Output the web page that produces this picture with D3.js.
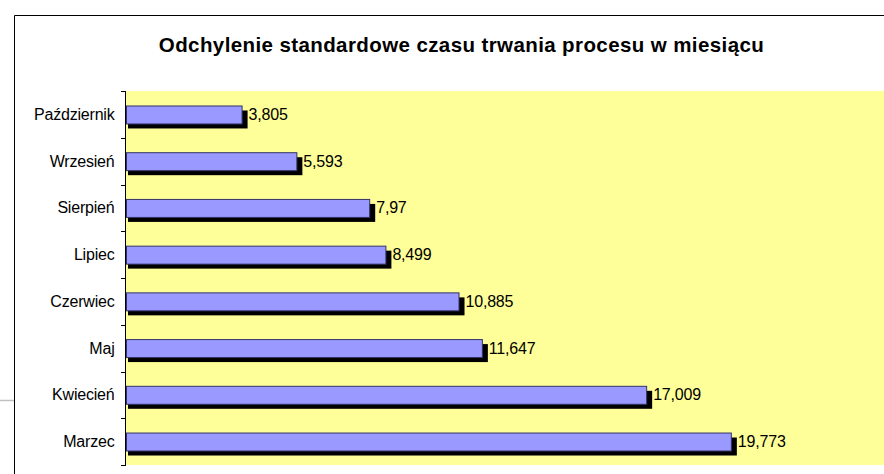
<!DOCTYPE html>
<html>
<head>
<meta charset="utf-8">
<script src="https://cdn.jsdelivr.net/npm/d3@7"></script>
<style>
  body { margin: 0; background: #fff; }
  svg text { font-family: "Liberation Sans", Arial, sans-serif; fill: #000; }
</style>
</head>
<body>
<div id="graphics"></div>
<script>
// data, top to bottom as in the picture
const months = ['Październik', 'Wrzesień', 'Sierpień', 'Lipiec', 'Czerwiec', 'Maj', 'Kwiecień', 'Marzec'];
const stdDev = [3.805, 5.593, 7.97, 8.499, 10.885, 11.647, 17.009, 19.773];
const valueLabels = ['3,805', '5,593', '7,97', '8,499', '10,885', '11,647', '17,009', '19,773'];

const W = 884, H = 474;
const plot = { left: 126, top: 91, right: 892, bottom: 465 };

const svg = d3.select('#graphics')
  .append('svg')
  .attr('width', W)
  .attr('height', H);

// outer chart frame (cropped on right / bottom)
svg.append('line')
  .attr('x1', 14.5).attr('x2', W).attr('y1', 15.5).attr('y2', 15.5)
  .attr('stroke', '#000').attr('stroke-width', 1);
svg.append('line')
  .attr('x1', 14.5).attr('x2', 14.5).attr('y1', 15.5).attr('y2', H)
  .attr('stroke', '#000').attr('stroke-width', 1);
svg.append('line')
  .attr('x1', 0).attr('x2', 14).attr('y1', 400.5).attr('y2', 400.5)
  .attr('stroke', '#c0c0c0').attr('stroke-width', 1.5);

// title
svg.append('text')
  .attr('x', 461.5)
  .attr('y', 52)
  .attr('text-anchor', 'middle')
  .attr('font-size', 20.5)
  .attr('font-weight', 'bold')
  .attr('letter-spacing', 0.4)
  .text('Odchylenie standardowe czasu trwania procesu w miesiącu');

// scales
const x = d3.scaleLinear().domain([0, 25]).range([plot.left, plot.right]);
const y = d3.scaleBand().domain(months).range([plot.top, plot.bottom]).paddingInner(0.615).paddingOuter(0.31);

// plot area
svg.append('rect')
  .attr('x', plot.left - 1)
  .attr('y', plot.top)
  .attr('width', W - plot.left + 1)
  .attr('height', plot.bottom - plot.top)
  .attr('fill', '#ffff99');

const rows = months.map((m, i) => ({ month: m, value: stdDev[i], label: valueLabels[i] }));

// shadows
svg.append('g').selectAll('rect')
  .data(rows)
  .join('rect')
  .attr('x', x(0) + 2)
  .attr('y', (d) => y(d.month) + 5)
  .attr('width', (d) => x(d.value) - x(0) + 3)
  .attr('height', y.bandwidth())
  .attr('fill', '#000');

// bars
svg.append('g').selectAll('rect')
  .data(rows)
  .join('rect')
  .attr('x', x(0) + 0.5)
  .attr('y', (d) => y(d.month) + 0.5)
  .attr('width', (d) => x(d.value) - x(0) - 1)
  .attr('height', y.bandwidth())
  .attr('fill', '#9999ff')
  .attr('stroke', '#333366')
  .attr('stroke-width', 1);

// value labels
svg.append('g').selectAll('text')
  .data(rows)
  .join('text')
  .attr('x', (d) => x(d.value) + 6)
  .attr('y', (d) => y(d.month) + y.bandwidth() / 2 + 5.5)
  .attr('font-size', 16)
  .attr('letter-spacing', -0.2)
  .text((d) => d.label);

// category axis
const yAxis = d3.axisLeft(y).tickSize(0).tickPadding(11);
const yG = svg.append('g')
  .attr('transform', 'translate(' + (plot.left - 0.5) + ',0)')
  .call(yAxis);
yG.select('.domain').remove();
yG.selectAll('text')
  .attr('font-size', 16)
  .attr('letter-spacing', -0.2)
  .attr('dy', '0.34em')
  .attr('font-family', '"Liberation Sans", Arial, sans-serif');

svg.append('line')
  .attr('x1', plot.left - 0.5).attr('x2', plot.left - 0.5)
  .attr('y1', plot.top).attr('y2', plot.bottom)
  .attr('stroke', '#000');

// tick marks at category boundaries
const step = (plot.bottom - plot.top) / months.length;
svg.append('g').selectAll('line')
  .data(d3.range(months.length + 1))
  .join('line')
  .attr('x1', plot.left - 5).attr('x2', plot.left)
  .attr('y1', (i) => Math.round(plot.top + i * step) + 0.5)
  .attr('y2', (i) => Math.round(plot.top + i * step) + 0.5)
  .attr('stroke', '#000');
</script>
</body>
</html>
